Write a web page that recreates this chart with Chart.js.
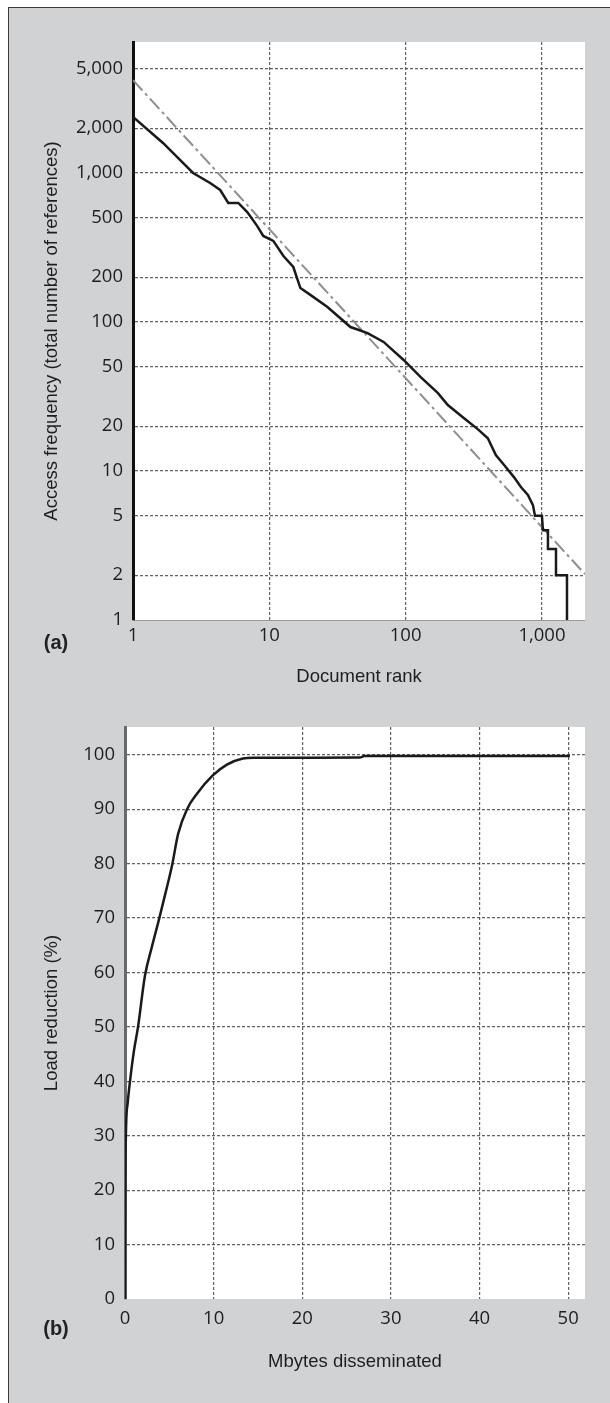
<!DOCTYPE html>
<html>
<head>
<meta charset="utf-8">
<script src="https://cdn.jsdelivr.net/npm/chart.js@4/dist/chart.umd.min.js"></script>
<style>
  html, body { margin:0; padding:0; width:610px; height:1403px; overflow:hidden; background:#fff; }
  #panel { position:absolute; left:8px; top:7px; width:640px; height:1440px; background:#d1d2d4; border:1px solid #3a3a3a; }
  canvas { position:absolute; left:0; }
  .lab { position:absolute; font-family:"Liberation Sans", Arial, sans-serif; font-weight:bold; font-size:20px; color:#222; transform:translate(-50%,-50%); }
</style>
</head>
<body>
<div id="panel"></div>
<canvas id="ca" width="610" height="700" style="top:0"></canvas>
<canvas id="cb" width="610" height="703" style="top:700px"></canvas>
<div class="lab" style="left:56px;top:642px">(a)</div>
<div class="lab" style="left:56px;top:1328px">(b)</div>
<script>
// ---- Chart (a): access frequency vs document rank (log-log) ----
const rankA = [1, 1.66, 2.76, 3.68, 4.36, 5.0, 5.92, 6.89, 8.16, 9.03, 10.7, 12.7, 15.0, 16.9, 20.0, 26.7, 39.4, 52.6, 68.9, 96.7, 129, 172, 204, 267, 338, 401, 459, 526, 623, 701, 789, 859, 889, 1000, 1017, 1107, 1107, 1268, 1268, 1527, 1527];
const freqA = [2380, 1590, 1000, 857, 769, 629, 629, 547, 440, 378, 350, 277, 234, 169, 152, 126, 92.5, 84.3, 73.5, 55.6, 42.7, 33.4, 27.7, 22.7, 19.1, 16.6, 12.8, 11, 9.1, 7.8, 6.9, 5.9, 5, 5, 4, 4, 3, 3, 2, 2, 1];
const fitRankA = [1, 2070];
const fitFreqA = [4200, 2.03];
const yTicksA = [1, 2, 5, 10, 20, 50, 100, 200, 500, 1000, 2000, 5000];
const xTicksA = [1, 10, 100, 1000];

// ---- Chart (b): load reduction vs Mbytes disseminated ----
const mbytesB = [0, 0.02, 0.1, 0.3, 0.6, 1.0, 1.47, 2.25, 3.0, 3.83, 4.6, 5.3, 6.0, 7.0, 8.1, 9.9, 11.5, 13.3, 14.5, 20, 26.5, 27, 50.2];
const loadB   = [0, 15, 30, 36, 40.5, 45.5, 50, 59.4, 64.5, 69.7, 74.8, 79.6, 85.5, 90, 92.8, 96.2, 98.2, 99.3, 99.45, 99.45, 99.5, 99.75, 99.75];
const yTicksB = [0, 10, 20, 30, 40, 50, 60, 70, 80, 90, 100];
const xTicksB = [0, 10, 20, 30, 40, 50];

const tickFont = { family: "'Open Sans', 'Noto Sans', sans-serif", size: 18.5 };
const titleFont = { family: "'Liberation Sans', Arial, sans-serif", size: 18.5 };
const textColor = '#1e1e1e';
const gridColor = 'rgba(70,70,70,0.85)';
const fmt = v => Number(v).toLocaleString('en-US');

const bgPlugin = {
  id: 'plotBg',
  beforeDraw(chart) {
    const { ctx, chartArea: { left, top, right, bottom } } = chart;
    ctx.save();
    ctx.fillStyle = '#ffffff';
    ctx.fillRect(left, top, right - left, bottom - top);
    ctx.restore();
  }
};

function pts(xs, ys) { return xs.map((x, i) => ({ x: x, y: ys[i] })); }

function gridCol(skipVal) {
  return ctx => (ctx.tick && ctx.tick.value === skipVal) ? 'rgba(0,0,0,0)' : gridColor;
}

Chart.defaults.animation = false;

new Chart(document.getElementById('ca'), {
  type: 'scatter',
  data: {
    datasets: [
      { data: pts(rankA, freqA), showLine: true, borderColor: '#1a1a1a', borderWidth: 2.5, pointRadius: 0, tension: 0 },
      { data: pts(fitRankA, fitFreqA), showLine: true, borderColor: '#8e8e8e', borderWidth: 2, borderDash: [14, 4, 3, 4], pointRadius: 0 }
    ]
  },
  options: {
    responsive: false,
    devicePixelRatio: 1,
    layout: { padding: { left: 0, top: 42, right: 25, bottom: 0 } },
    plugins: { legend: { display: false }, tooltip: { enabled: false } },
    scales: {
      x: {
        type: 'logarithmic', min: 1, max: 2070,
        afterFit(s) { s.height = 80; },
        afterBuildTicks(s) { s.ticks = xTicksA.map(v => ({ value: v })); },
        ticks: { autoSkip: false, maxRotation: 0, padding: 5, font: tickFont, color: textColor, callback: v => fmt(v) },
        grid: { color: gridCol(1), lineWidth: 1.2, drawTicks: false },
        border: { display: true, color: '#9a9a9a', width: 1, dash: [3, 2] },
        title: { display: true, text: 'Document rank', font: titleFont, color: textColor, padding: { top: 0, bottom: 12 } }
      },
      y: {
        type: 'logarithmic', min: 1, max: 7570,
        afterFit(s) { s.width = 133; },
        afterBuildTicks(s) { s.ticks = yTicksA.map(v => ({ value: v })); },
        ticks: { autoSkip: false, padding: 10, font: tickFont, color: textColor, callback: v => fmt(v) },
        grid: { color: gridCol(1), lineWidth: 1.2, drawTicks: false },
        border: { display: true, color: '#111', width: 3, dash: [3, 2] },
        title: { display: true, text: 'Access frequency (total number of references)', font: titleFont, color: textColor, padding: { top: 41, bottom: 0 } }
      }
    }
  },
  plugins: [bgPlugin]
});

new Chart(document.getElementById('cb'), {
  type: 'scatter',
  data: {
    datasets: [
      { data: pts(mbytesB, loadB), showLine: true, borderColor: '#1a1a1a', borderWidth: 2.5, pointRadius: 0, tension: 0.4, cubicInterpolationMode: 'monotone' }
    ]
  },
  options: {
    responsive: false,
    devicePixelRatio: 1,
    layout: { padding: { left: 0, top: 27, right: 25, bottom: 0 } },
    plugins: { legend: { display: false }, tooltip: { enabled: false } },
    scales: {
      x: {
        type: 'linear', min: 0, max: 51.9,
        afterFit(s) { s.height = 104; },
        afterBuildTicks(s) { s.ticks = xTicksB.map(v => ({ value: v })); },
        ticks: { autoSkip: false, maxRotation: 0, padding: 9, font: tickFont, color: textColor, callback: v => fmt(v) },
        grid: { color: gridCol(0), lineWidth: 1.2, drawTicks: false },
        border: { display: true, color: 'rgba(255,255,255,0)', width: 1, dash: [3, 2] },
        title: { display: true, text: 'Mbytes disseminated', font: titleFont, color: textColor, padding: { top: 0, bottom: 30 } }
      },
      y: {
        type: 'linear', min: 0, max: 105.1,
        afterFit(s) { s.width = 125; },
        afterBuildTicks(s) { s.ticks = yTicksB.map(v => ({ value: v })); },
        ticks: { autoSkip: false, padding: 10, font: tickFont, color: textColor, callback: v => fmt(v) },
        grid: { color: gridCol(0), lineWidth: 1.2, drawTicks: false },
        border: { display: true, color: '#6a6a6a', width: 3, dash: [3, 2] },
        title: { display: true, text: 'Load reduction (%)', font: titleFont, color: textColor, padding: { top: 41, bottom: 0 } }
      }
    }
  },
  plugins: [bgPlugin]
});
</script>
</body>
</html>
